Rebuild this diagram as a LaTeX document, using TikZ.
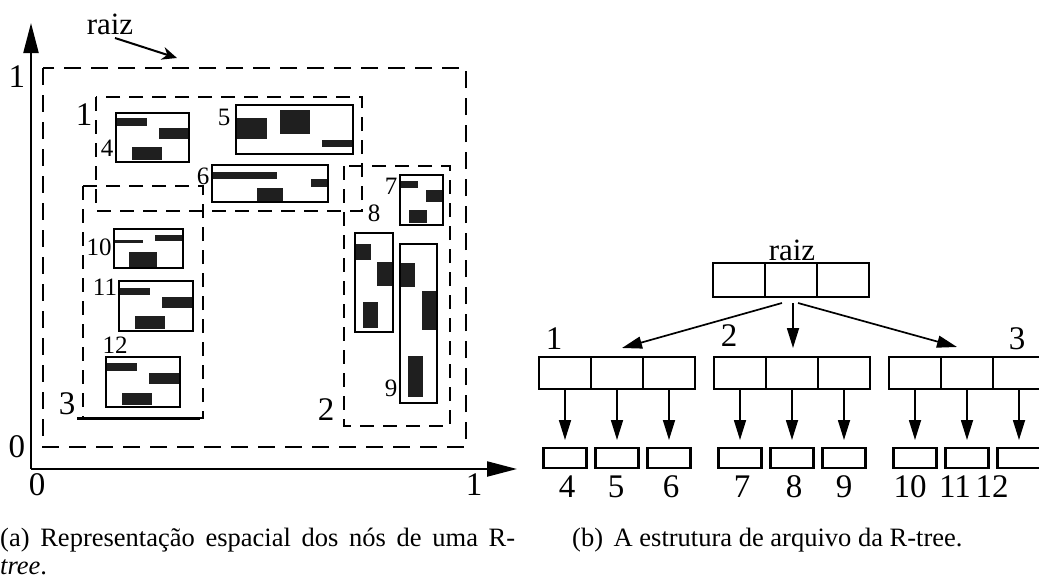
\documentclass[tikz,border=0pt]{standalone}
\usepackage{fontspec}
\setmainfont{Liberation Serif}
\usetikzlibrary{arrows.meta}
\begin{document}
\begin{tikzpicture}[x=1pt,y=-1pt,
  bx/.style={draw, line width=2pt},
  blk/.style={fill=black!88},
  dsh/.style={line width=2.2pt, dash pattern=on 14pt off 9pt},
  odsh/.style={line width=2.2pt, dash pattern=on 17pt off 10pt},
  big/.style={font=\fontsize{33}{36}\selectfont, inner sep=0pt},
  sml/.style={font=\fontsize{25}{28}\selectfont, inner sep=0pt},
  captxt/.style={font=\fontsize{26.5}{30}\selectfont, inner sep=0pt},
  cell/.style={draw, line width=2.6pt, minimum width=52pt, minimum height=32pt, inner sep=0pt, outer sep=0pt},
  leaf/.style={draw, line width=2.3pt, minimum width=43pt, minimum height=20pt, inner sep=0pt, outer sep=0pt},
  tarr/.style={line width=1.7pt, -{Triangle[length=20pt,width=12pt]}},
  axis/.style={line width=2.2pt, -{Triangle[length=30pt,width=15pt]}},
]
\useasboundingbox (0,0) rectangle (1039,581);

% ---------- left panel ----------
\coordinate (O) at (31,469);
\coordinate (Ytop) at (31,23);
\coordinate (Xtop) at (517,469);
\draw[axis] (O) -- (Ytop);
\draw[axis] (O) -- (Xtop);
\node[big] (y1) at (17,77) {1};
\node[big] (y0) at (17,447) {0};
\node[big] (x0) at (37,485) {0};
\node[big] (x1) at (474,485) {1};

\node[big, font=\fontsize{31}{34}\selectfont] (raizL) at (110,24) {raiz};
\coordinate (raizS) at (115,38);
\coordinate (raizT) at (177,58);
\draw[line width=2pt, -{Stealth[length=15pt,width=13pt]}] (raizS) -- (raizT);

% dashed regions
\draw[odsh] (43,68) rectangle (466,447);
\draw[dsh] (96,97) rectangle (362,211);
\draw[dsh] (83,186) rectangle (203,418);
\draw[dsh] (344,166) rectangle (450,426);
\draw[line width=3pt] (77,418) -- (200,418);
\node[big] (l1) at (84,115) {1};
\node[big] (l2) at (326,410) {2};
\node[big] (l3) at (67,404) {3};

% black fills
\fill[blk] (116,118) rectangle (147,126);
\fill[blk] (159,128) rectangle (189,139);
\fill[blk] (132,147) rectangle (162,160);
\fill[blk] (236,118) rectangle (267,139);
\fill[blk] (280,110) rectangle (310,134);
\fill[blk] (322,140) rectangle (353,147);
\fill[blk] (212,172) rectangle (277,179);
\fill[blk] (311,179) rectangle (328,187);
\fill[blk] (257,188) rectangle (283,201);
\fill[blk] (400,181) rectangle (418,188);
\fill[blk] (426,190) rectangle (443,202);
\fill[blk] (409,210) rectangle (427,223);
\fill[blk] (355,244) rectangle (371,260);
\fill[blk] (377,262) rectangle (393,286);
\fill[blk] (363,302) rectangle (378,328);
\fill[blk] (400,263) rectangle (415,287);
\fill[blk] (422,291) rectangle (437,330);
\fill[blk] (408,356) rectangle (423,397);
\fill[blk] (114,240) rectangle (143,243);
\fill[blk] (155,235) rectangle (183,241);
\fill[blk] (129,252) rectangle (157,268);
\fill[blk] (119,288) rectangle (150,295);
\fill[blk] (162,297) rectangle (193,308);
\fill[blk] (135,316) rectangle (165,329);
\fill[blk] (106,363) rectangle (137,371);
\fill[blk] (149,373) rectangle (180,384);
\fill[blk] (122,393) rectangle (152,405);

% data boxes
\draw[bx] (116,113) rectangle (189,162);
\draw[bx] (236,105) rectangle (353,154);
\draw[bx] (212,165) rectangle (328,202);
\draw[bx] (400,175) rectangle (443,225);
\draw[bx] (355,233) rectangle (393,332);
\draw[bx] (400,244) rectangle (437,403);
\draw[bx] (114,229) rectangle (183,268);
\draw[bx] (119,281) rectangle (193,331);
\draw[bx] (106,357) rectangle (180,407);

\node[sml] (b4) at (107,148) {4};
\node[sml] (b5) at (224,117) {5};
\node[sml] (b6) at (203,176) {6};
\node[sml] (b7) at (391,186) {7};
\node[sml] (b8) at (374,213) {8};
\node[sml] (b9) at (391,388) {9};
\node[sml] (b10) at (99,247) {10};
\node[sml] (b11) at (105,287) {11};
\node[sml] (b12) at (115,345) {12};

% ---------- right panel ----------
\node[big, font=\fontsize{31}{34}\selectfont] (raizR) at (792,250) {raiz};
\node[cell, minimum height=34pt] (r1) at (739,280) {};
\node[cell, minimum height=34pt] (r2) at (791,280) {};
\node[cell, minimum height=34pt] (r3) at (843,280) {};

\foreach \n/\x in {1/565,2/740,3/915}{
  \node[cell] (c\n1) at (\x,373) {};
  \node[cell] (c\n2) at (\x+52,373) {};
  \node[cell] (c\n3) at (\x+104,373) {};
}
\node[big] (t1) at (554,339) {1};
\node[big] (t2) at (729,336) {2};
\node[big] (t3) at (1017,339) {3};

\coordinate (ra) at (782,303);
\coordinate (rb) at (793,303);
\coordinate (rc) at (798,303);
\draw[tarr] (ra) -- ([xshift=5pt,yshift=9pt]c12.north);
\draw[tarr] (rb) -- ([xshift=1pt,yshift=9pt]c22.north);
\draw[tarr] (rc) -- ([xshift=-10pt,yshift=10pt]c32.north);

\foreach \n/\x in {1/565,2/740,3/915}{
  \node[leaf] (f\n1) at (\x,458) {};
  \node[leaf] (f\n2) at (\x+52,458) {};
  \node[leaf] (f\n3) at (\x+104,458) {};
}
\foreach \n in {1,2,3}{
  \foreach \m in {1,2,3}{
    \draw[tarr] (c\n\m.south) -- ([yshift=8pt]f\n\m.north);
  }
}
\node[big] (n4) at (567,487) {4};
\node[big] (n5) at (616,487) {5};
\node[big] (n6) at (671,487) {6};
\node[big] (n7) at (742,487) {7};
\node[big] (n8) at (794,487) {8};
\node[big] (n9) at (844,487) {9};
\node[big] (n10) at (910,487) {10};
\node[big] (n11) at (955,487) {11};
\node[big] (n12) at (992,487) {12};

% ---------- captions ----------
\node[captxt, anchor=base west] (capa) at (0,546) {\makebox[515pt][s]{(a) Representação espacial dos nós de uma R-}};
\node[captxt, anchor=base west] (capa2) at (0,574) {\textit{tree}.};
\node[captxt, anchor=base west] (capb) at (572,546) {(b)\hspace{4pt} A estrutura de arquivo da R-tree.};
\end{tikzpicture}
\end{document}
